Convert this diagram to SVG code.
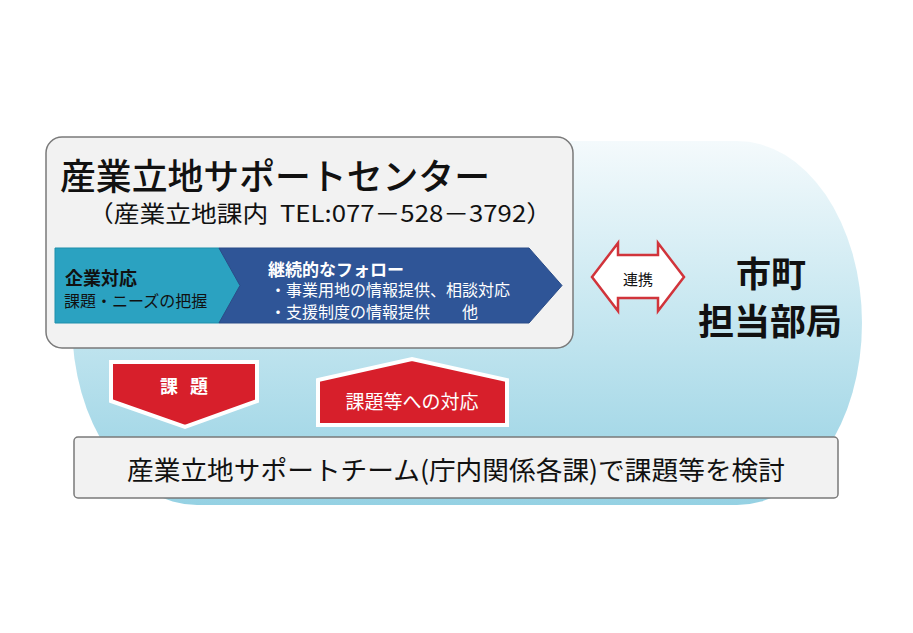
<svg xmlns="http://www.w3.org/2000/svg" width="913" height="633" viewBox="0 0 913 633">
  <defs>
    <linearGradient id="bgGrad" x1="0" y1="0" x2="0" y2="1">
      <stop offset="0" stop-color="#f4fafc"/>
      <stop offset="0.45" stop-color="#c9e8f1"/>
      <stop offset="1" stop-color="#95d1e3"/>
    </linearGradient>
    <style>
      .jp { font-family: "Noto Sans CJK JP", "Noto Sans", sans-serif; }
      .box { fill: #f2f2f2; stroke: #7a7a7a; stroke-width: 1.5; }
      .redArrow { fill: #d71f2b; stroke: #ffffff; stroke-width: 4; stroke-linejoin: miter; }
      .wtxt { fill: #ffffff; }
      .dtxt { fill: #111111; }
    </style>
  </defs>
  <rect width="913" height="633" fill="#ffffff"/>

  <g id="background">
    <rect x="72" y="141" width="790" height="364" rx="125" ry="182" fill="url(#bgGrad)"/>
  </g>

  <g id="support-center">
    <rect class="box" x="46" y="137" width="527" height="211" rx="16" ry="16"/>
    <text class="jp dtxt" x="60" y="174" font-size="36" font-weight="500" dominant-baseline="central" textLength="430" lengthAdjust="spacingAndGlyphs">産業立地サポートセンター</text>
    <text class="jp dtxt" x="88" y="212" font-size="23" dominant-baseline="central" textLength="464" lengthAdjust="spacingAndGlyphs">（産業立地課内&#160;&#160;TEL:077－528－3792）</text>
  </g>

  <g id="company-response">
    <polygon points="55,248 219,248 240,285.5 219,323 55,323" fill="#2ba2c1" stroke="#1f8fab" stroke-width="1"/>
    <text class="jp dtxt" x="65" y="277" font-size="18" font-weight="bold" dominant-baseline="central">企業対応</text>
    <text class="jp dtxt" x="64" y="300" font-size="16" dominant-baseline="central" fill="#222">課題・ニーズの把握</text>
  </g>

  <g id="follow-up">
    <polygon points="219,248 529,248 562,285.5 529,323 219,323 240,285.5" fill="#2f5597" stroke="#2a4c88" stroke-width="1"/>
    <text class="jp wtxt" x="268" y="268" font-size="17" font-weight="bold" dominant-baseline="central">継続的なフォロー</text>
    <text class="jp wtxt" x="270" y="289" font-size="16" dominant-baseline="central">・事業用地の情報提供、相談対応</text>
    <text class="jp wtxt" x="270" y="311" font-size="16" dominant-baseline="central">・支援制度の情報提供　　他</text>
  </g>

  <g id="city-dept">
    <text class="jp dtxt" x="771" y="271" font-size="35" font-weight="bold" text-anchor="middle" dominant-baseline="central">市町</text>
    <text class="jp dtxt" x="770" y="319" font-size="36" font-weight="bold" text-anchor="middle" dominant-baseline="central">担当部局</text>
  </g>

  <g id="support-team">
    <rect class="box" x="74" y="437" width="764" height="61" rx="4" ry="4"/>
    <text class="jp dtxt" x="127" y="468" font-size="26" dominant-baseline="central" textLength="658" lengthAdjust="spacingAndGlyphs">産業立地サポートチーム(庁内関係各課)で課題等を検討</text>
  </g>

  <g id="connectors">
    <g id="arrow-issues">
      <polygon class="redArrow" points="111,362 257,362 257,401 185,427 111,401"/>
      <text class="jp wtxt" x="186" y="385" font-size="18" font-weight="bold" text-anchor="middle" dominant-baseline="central" letter-spacing="4">課 題</text>
    </g>
    <g id="arrow-response">
      <polygon class="redArrow" points="318,380 412,359 507,380 507,425 318,425"/>
      <text class="jp wtxt" x="412" y="400" font-size="19" text-anchor="middle" dominant-baseline="central">課題等への対応</text>
    </g>
    <g id="arrow-link">
      <polygon points="592,277 618,243 618,255 658,255 658,243 684,277 658,311 658,298 618,298 618,311" fill="#ffffff" stroke="#d1343b" stroke-width="2.5" stroke-linejoin="miter"/>
      <text class="jp dtxt" x="638" y="278" font-size="15" text-anchor="middle" dominant-baseline="central" fill="#222">連携</text>
    </g>
  </g>
</svg>
